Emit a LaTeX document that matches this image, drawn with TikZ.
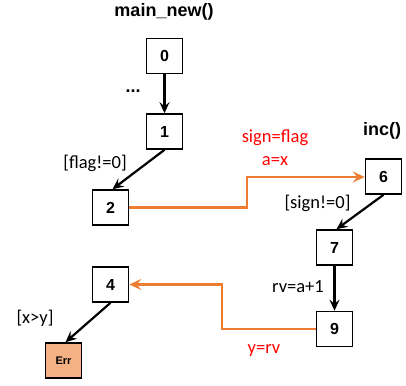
\documentclass[tikz,border=0pt]{standalone}
\usepackage{fontspec}
\setmainfont{Liberation Sans}
\newfontfamily\lblfont{Carlito}
\usetikzlibrary{arrows.meta}
\definecolor{orng}{HTML}{ED7D31}
\definecolor{errfill}{HTML}{F4B183}
\definecolor{lred}{HTML}{FF0000}
\begin{document}
\begin{tikzpicture}[x=1pt,y=-1pt,
  box/.style={draw=black,line width=1.6pt,minimum width=36pt,minimum height=35pt,inner sep=0pt,font=\fontsize{16}{16}\selectfont\bfseries},
  errbox/.style={box,fill=errfill,font=\fontsize{11}{11}\selectfont\bfseries},
  flow/.style={line width=2.2pt,-{Stealth[length=11pt,width=10pt,inset=4pt]}},
  call/.style={draw=orng,line width=2.4pt,-{Stealth[length=12pt,width=11pt,inset=4.5pt]}},
  lbl/.style={font=\lblfont\fontsize{18.5}{18.5}\selectfont,inner sep=0pt},
  rlbl/.style={lbl,text=lred},
  title/.style={font=\fontsize{18}{18}\selectfont\bfseries,inner sep=0pt}]
\useasboundingbox (0,0) rectangle (406,385);
\node[title] (t1) at (164,12) {main\_new()};
\node[title] (t2) at (382,131) {inc()};
\node[box] (n0) at (164.5,56) {0};
\node[box] (n1) at (164.5,131.5) {1};
\node[box] (n2) at (110.5,207.5) {2};
\node[box] (n4) at (110.5,284.5) {4};
\node[errbox] (err) at (63.5,360.5) {Err};
\node[box] (n6) at (383.5,176.5) {6};
\node[box] (n7) at (334.5,247.5) {7};
\node[box] (n9) at (334.5,329) {9};
\node[title] (dots) at (133,91) {...};
\node[lbl] (l1) at (95,163) {[flag!=0]};
\node[lbl] (l6) at (317.5,203) {[sign!=0]};
\node[lbl] (l7) at (298,287) {rv=a+1};
\node[lbl] (l4) at (35,318) {[x>y]};
\node[rlbl] (c1) at (275,138) {sign=flag};
\node[rlbl] (c2) at (275,161) {a=x};
\node[rlbl] (c3) at (264,350) {y=rv};
\draw[flow] (n0) -- (n1);
\draw[flow] (n1.south) -- ([xshift=2pt]n2.north);
\draw[flow] (n6.south) -- ([xshift=2pt]n7.north);
\draw[flow] (n7) -- (n9);
\draw[flow] (n4.south) -- ([xshift=2pt]err.north);
\coordinate (b1) at (247,207.5);
\coordinate (b2) at (247,177);
\draw[call] (n2.east) -- (b1) -- (b2) -- (n6.west |- b2);
\coordinate (d1) at (222,329);
\coordinate (d2) at (222,284.5);
\draw[call] (n9.west) -- (d1) -- (d2) -- (n4.east);
\end{tikzpicture}
\end{document}
